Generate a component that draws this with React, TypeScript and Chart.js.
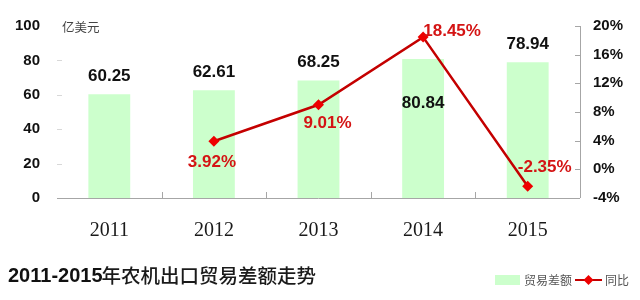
import React, { useEffect, useRef } from "react";
import { Chart, registerables } from "chart.js";

Chart.register(...registerables);

// ---- data ----
const years = ["2011", "2012", "2013", "2014", "2015"];
const tradeBalance = [60.25, 62.61, 68.25, 80.84, 78.94];
const yoyGrowth: (number | null)[] = [null, 3.92, 9.01, 18.45, -2.35];
const barLabels = ["60.25", "62.61", "68.25", "80.84", "78.94"];
const lineLabels = ["", "3.92%", "9.01%", "18.45%", "-2.35%"];
const leftTickValues = [0, 20, 40, 60, 80, 100];
const rightTickValues = [-4, 0, 4, 8, 12, 16, 20];
const titleNum = "2011-2015";
const titleText = "年农机出口贸易差额走势";
const unitText = "亿美元";
const legendBar = "贸易差额";
const legendLine = "同比";

// ---- styles ----
const barColor = "rgb(204,255,204)";
const lineColor = "#c40000";
const markerColor = "#ee0000";
const labelRed = "#d41414";
const axisGrey = "#a6a6a6";
const barLabelOffsets = [[0, -18], [0, -18], [0, -18], [0, 44], [0, -18]];
const lineLabelOffsets = [[0, 0], [-2, 21], [9, 19], [29, -6], [17, -19]];

const overlay = {
  id: "overlay",
  afterDatasetsDraw(chart: any) {
    const ctx = chart.ctx as CanvasRenderingContext2D;
    const area = chart.chartArea;
    const y = chart.scales.y;
    const y1 = chart.scales.y1;
    const x = chart.scales.x;
    ctx.save();
    // axes lines
    ctx.strokeStyle = axisGrey;
    ctx.lineWidth = 1;
    ctx.beginPath();
    ctx.moveTo(area.left, Math.round(area.bottom) + 0.5);
    ctx.lineTo(area.right, Math.round(area.bottom) + 0.5);
    ctx.moveTo(Math.round(area.right) + 0.5, area.top);
    ctx.lineTo(Math.round(area.right) + 0.5, area.bottom);
    // right ticks (inward)
    rightTickValues.forEach((v) => {
      const py = Math.round(y1.getPixelForValue(v)) + 0.5;
      ctx.moveTo(area.right - 5, py);
      ctx.lineTo(area.right, py);
    });
    // x ticks between categories (inward)
    for (let i = 1; i < years.length; i++) {
      const px = Math.round((x.getPixelForValue(i - 1) + x.getPixelForValue(i)) / 2) + 0.5;
      ctx.moveTo(px, area.bottom);
      ctx.lineTo(px, area.bottom - 6);
    }
    ctx.stroke();
    // faint left ticks
    ctx.strokeStyle = "#d8d8d8";
    ctx.beginPath();
    leftTickValues.forEach((v) => {
      if (v === 0 || v === 100) return;
      const py = Math.round(y.getPixelForValue(v)) + 0.5;
      ctx.moveTo(area.left, py);
      ctx.lineTo(area.left + 5, py);
    });
    ctx.stroke();

    // bar labels
    ctx.textAlign = "center";
    ctx.textBaseline = "middle";
    ctx.font = "bold 17px 'Liberation Sans', Arial, sans-serif";
    ctx.fillStyle = "#111";
    chart.getDatasetMeta(1).data.forEach((el: any, i: number) => {
      const [dx, dy] = barLabelOffsets[i];
      ctx.fillText(barLabels[i], el.x + dx, el.y + dy);
    });
    // line labels
    ctx.fillStyle = labelRed;
    chart.getDatasetMeta(0).data.forEach((el: any, i: number) => {
      if (!lineLabels[i]) return;
      const [dx, dy] = lineLabelOffsets[i];
      ctx.fillText(lineLabels[i], el.x + dx, el.y + dy);
    });

    // unit
    ctx.textAlign = "left";
    ctx.fillStyle = "#444";
    ctx.font = "12.5px 'Noto Sans CJK SC', sans-serif";
    ctx.fillText(unitText, 62, y.getPixelForValue(100) + 1);

    // title
    ctx.fillStyle = "#111";
    ctx.font = "bold 20px 'Liberation Sans', Arial, sans-serif";
    ctx.fillText(titleNum, 8, 276);
    const w = ctx.measureText(titleNum).width;
    ctx.fillStyle = "#1a1a1a";
    ctx.font = "500 19.5px 'Noto Sans CJK SC', sans-serif";
    ctx.fillText(titleText, 7 + w, 276);

    // legend
    const ly = 280;
    ctx.fillStyle = barColor;
    ctx.fillRect(495, ly - 5, 25, 10);
    ctx.fillStyle = "#555";
    ctx.font = "12px 'Noto Sans CJK SC', sans-serif";
    ctx.fillText(legendBar, 524, ly);
    ctx.strokeStyle = lineColor;
    ctx.lineWidth = 2;
    ctx.beginPath();
    ctx.moveTo(575, ly);
    ctx.lineTo(602, ly);
    ctx.stroke();
    ctx.fillStyle = markerColor;
    ctx.beginPath();
    ctx.moveTo(588.5, ly - 5);
    ctx.lineTo(593.5, ly);
    ctx.lineTo(588.5, ly + 5);
    ctx.lineTo(583.5, ly);
    ctx.closePath();
    ctx.fill();
    ctx.fillStyle = "#555";
    ctx.fillText(legendLine, 605, ly);
    ctx.restore();
  },
};

export default function App() {
  const ref = useRef<HTMLCanvasElement>(null);
  useEffect(() => {
    if (!ref.current) return;
    const chart = new Chart(ref.current, {
      type: "bar",
      data: {
        labels: years,
        datasets: [
          {
            type: "line",
            label: legendLine,
            data: yoyGrowth,
            yAxisID: "y1",
            borderColor: lineColor,
            borderWidth: 2.5,
            tension: 0,
            pointStyle: "rectRot",
            pointRadius: 5.5,
            pointBackgroundColor: markerColor,
            pointBorderColor: markerColor,
            pointBorderWidth: 0,
            order: 0,
          } as any,
          {
            type: "bar",
            label: legendBar,
            data: tradeBalance,
            yAxisID: "y",
            backgroundColor: barColor,
            categoryPercentage: 1,
            barPercentage: 0.4,
            order: 1,
          },
        ],
      },
      options: {
        responsive: false,
        animation: false,
        devicePixelRatio: 1,
        layout: { padding: { top: 21, left: 0, right: 0, bottom: 0 } },
        plugins: { legend: { display: false }, tooltip: { enabled: false } },
        scales: {
          x: {
            grid: { display: false, drawTicks: false },
            border: { display: false },
            ticks: {
              color: "#1a1a1a",
              font: { family: "'Liberation Serif', 'Times New Roman', serif", size: 20 },
              padding: 21,
            },
            afterFit: (s: any) => { s.height = 102; },
          },
          y: {
            position: "left",
            min: 0,
            max: 100,
            grid: { display: false, drawTicks: false },
            border: { display: false },
            ticks: {
              stepSize: 20,
              color: "#111",
              font: { family: "'Liberation Sans', Arial, sans-serif", size: 15, weight: "bold" },
              padding: 17,
            },
            afterFit: (s: any) => { s.width = 57; },
          },
          y1: {
            position: "right",
            min: -4,
            max: 20,
            grid: { display: false, drawTicks: false },
            border: { display: false },
            ticks: {
              stepSize: 4,
              color: "#111",
              font: { family: "'Liberation Sans', Arial, sans-serif", size: 15, weight: "bold" },
              padding: 13,
              callback: (v: any) => v + "%",
            },
            afterFit: (s: any) => { s.width = 60; },
          },
        },
      },
      plugins: [overlay],
    });
    return () => chart.destroy();
  }, []);
  return (
    <div style={{ position: "absolute", left: 0, top: 0, width: 640, height: 300, background: "#fff" }}>
      <canvas ref={ref} width={640} height={300} style={{ display: "block" }} />
    </div>
  );
}
